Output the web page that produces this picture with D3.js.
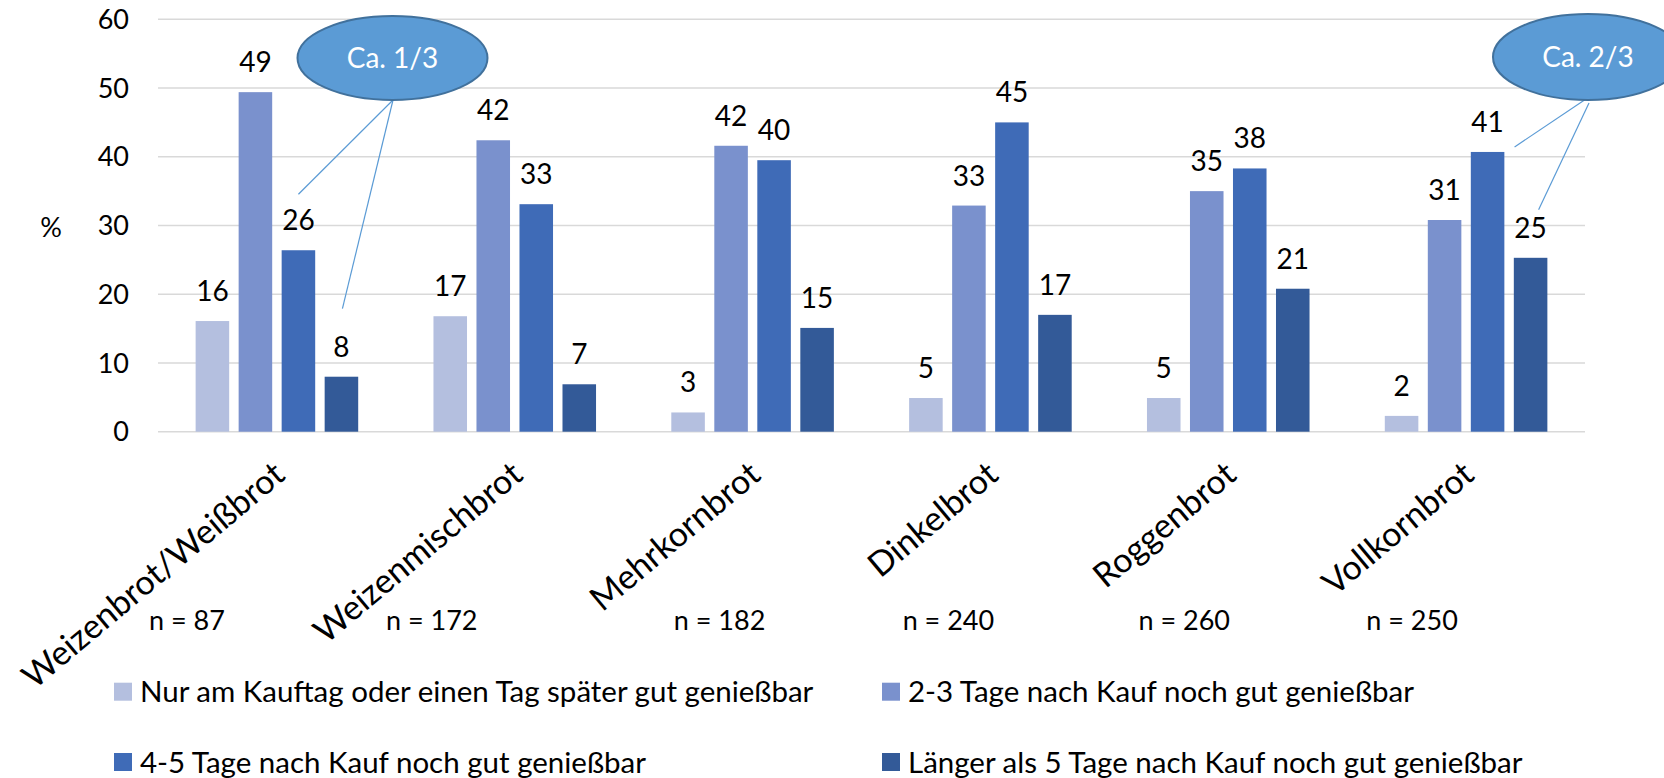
<!DOCTYPE html>
<html>
<head>
<meta charset="utf-8">
<script src="https://cdn.jsdelivr.net/npm/d3@7"></script>
<style>
  html, body { margin: 0; padding: 0; background: #fff; }
  svg { display: block; }
  text { font-family: "Lato", "Open Sans", sans-serif; fill: #000; }
</style>
</head>
<body>
<svg id="chart" width="1664" height="778"></svg>
<script>
// ---------- DATA ----------
const categories = ["Weizenbrot/Weißbrot", "Weizenmischbrot", "Mehrkornbrot", "Dinkelbrot", "Roggenbrot", "Vollkornbrot"];
const sampleSizes = ["n = 87", "n = 172", "n = 182", "n = 240", "n = 260", "n = 250"];
const seriesNames = [
  "Nur am Kauftag oder einen Tag später gut genießbar",
  "2-3 Tage nach Kauf noch gut genießbar",
  "4-5 Tage nach Kauf noch gut genießbar",
  "Länger als 5 Tage nach Kauf noch gut genießbar"
];
const s1Values = [16.1, 16.8, 2.8, 4.9, 4.9, 2.3];
const s2Values = [49.4, 42.4, 41.6, 32.9, 35.0, 30.8];
const s3Values = [26.4, 33.1, 39.5, 45.0, 38.3, 40.7];
const s4Values = [8.0, 6.9, 15.1, 17.0, 20.8, 25.3];
const yTicks = [0, 10, 20, 30, 40, 50, 60];
const yLabel = "%";
const callouts = [
  { text: "Ca. 1/3", targets: [[0, 2], [0, 3]] },
  { text: "Ca. 2/3", targets: [[5, 2], [5, 3]] }
];

// ---------- LAYOUT / STYLE ----------
const W = 1664, H = 778;
const colors = ["#B4BFDF", "#7A91CD", "#3F6BB7", "#335A98"];
const plotLeft = 158, plotRight = 1585, plotTop = 19.3, plotBottom = 431.7;
const fontBase = 27;
const nLabelShift = [-90, -83, -33, -42, -44, -54];
const calloutShapes = [
  { cx: 392.5, cy: 58, rx: 95, ry: 42, starts: [[393, 100], [393, 100]], ends: [[0, -56], [1, -68]] },
  { cx: 1588, cy: 57, rx: 95, ry: 43, starts: [[1586, 99], [1589, 103]], ends: [[27, -5], [8, -48]] }
];

const valuesBySeries = [s1Values, s2Values, s3Values, s4Values];

const svg = d3.select("#chart");
svg.append("rect").attr("width", W).attr("height", H).attr("fill", "#fff");

const x0 = d3.scaleBand().domain(categories).range([plotLeft, plotRight]).paddingInner(0).paddingOuter(0);
const x1 = d3.scaleBand().domain(d3.range(seriesNames.length)).range([0, x0.bandwidth()]).paddingInner(0.22).paddingOuter(0.875);
const y = d3.scaleLinear().domain([0, 60]).range([plotBottom, plotTop]);

// gridlines
svg.append("g").selectAll("line").data(yTicks).join("line")
  .attr("x1", plotLeft).attr("x2", plotRight)
  .attr("y1", d => y(d)).attr("y2", d => y(d))
  .attr("stroke", "#D9D9D9").attr("stroke-width", 1.5);

// y tick labels
svg.append("g").selectAll("text").data(yTicks).join("text")
  .attr("x", 129).attr("y", d => y(d)).attr("dy", "0.36em")
  .attr("text-anchor", "end").attr("font-size", fontBase)
  .text(d => d3.format("d")(d));

// y label
svg.append("text").attr("x", 51).attr("y", 227).attr("dy", "0.36em")
  .attr("text-anchor", "middle").attr("font-size", fontBase).text(yLabel);

// bars
const groups = svg.append("g").selectAll("g").data(categories).join("g")
  .attr("transform", d => `translate(${x0(d)},0)`);

groups.selectAll("rect").data((c, ci) => valuesBySeries.map((vals, si) => ({ si, v: vals[ci] }))).join("rect")
  .attr("x", d => x1(d.si)).attr("width", x1.bandwidth())
  .attr("y", d => y(d.v)).attr("height", d => y(0) - y(d.v))
  .attr("fill", d => colors[d.si]);

groups.selectAll("text.val").data((c, ci) => valuesBySeries.map((vals, si) => ({ si, v: vals[ci] }))).join("text")
  .attr("class", "val")
  .attr("x", d => x1(d.si) + x1.bandwidth() / 2)
  .attr("y", d => y(d.v) - 20)
  .attr("text-anchor", "middle").attr("font-size", 28)
  .text(d => d3.format(".0f")(d.v));

// category labels (rotated)
svg.append("g").selectAll("text").data(categories).join("text")
  .attr("transform", d => `translate(${x0(d) + x0.bandwidth() / 2 + 10},${478}) rotate(-40)`)
  .attr("text-anchor", "end").attr("font-size", 34)
  .text(d => d);

// n labels
svg.append("g").selectAll("text").data(sampleSizes).join("text")
  .attr("x", (d, i) => x0(categories[i]) + x0.bandwidth() / 2 + nLabelShift[i])
  .attr("y", 630)
  .attr("text-anchor", "middle").attr("font-size", fontBase)
  .text(d => d);

// legend
const legendPos = [[114, 682.7], [882, 682.7], [114, 753], [882, 753]];
const leg = svg.append("g").selectAll("g").data(seriesNames).join("g")
  .attr("transform", (d, i) => `translate(${legendPos[i][0]},${legendPos[i][1]})`);
leg.append("rect").attr("width", 18).attr("height", 18).attr("fill", (d, i) => colors[i]);
leg.append("text").attr("x", 26).attr("y", 19.5).attr("font-size", 29.5).text(d => d);

// callouts
callouts.forEach((c, k) => {
  const s = calloutShapes[k];
  const g = svg.append("g");
  c.targets.forEach(([ci, si], j) => {
    const bx = x0(categories[ci]) + x1(si) + x1.bandwidth() / 2;
    const by = y(valuesBySeries[si][ci]);
    g.append("line")
      .attr("x1", s.starts[j][0]).attr("y1", s.starts[j][1])
      .attr("x2", bx + s.ends[j][0]).attr("y2", by + s.ends[j][1])
      .attr("stroke", "#5B9BD5").attr("stroke-width", 1.2);
  });
  g.append("ellipse").attr("cx", s.cx).attr("cy", s.cy).attr("rx", s.rx).attr("ry", s.ry)
    .attr("fill", "#5B9BD5").attr("stroke", "#41719C").attr("stroke-width", 2);
  g.append("text").attr("x", s.cx).attr("y", s.cy).attr("dy", "0.36em")
    .attr("text-anchor", "middle").attr("font-size", 28).style("fill", "#fff")
    .text(c.text);
});
</script>
</body>
</html>
